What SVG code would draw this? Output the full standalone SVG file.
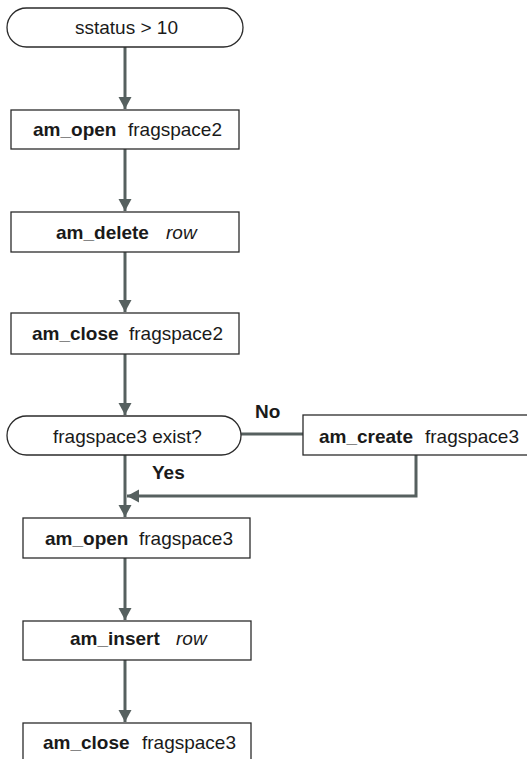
<svg xmlns="http://www.w3.org/2000/svg" width="527" height="759" viewBox="0 0 527 759">
<style>
.box{fill:#fff;stroke:#2b2b2b;stroke-width:1.3}
.t{font-family:"Liberation Sans",Arial,sans-serif;font-size:19px;fill:#1a1a1a}
.b{font-weight:bold}
.i{font-style:italic}
.c{fill:none;stroke:#56605f;stroke-width:3}
</style>
<defs>
<marker id="ah" markerUnits="userSpaceOnUse" markerWidth="14" markerHeight="14" refX="12" refY="6.5" orient="auto">
<path d="M0,0 L12,6.5 L0,13 z" fill="#56605f"/>
</marker>
</defs>
<rect width="527" height="759" fill="#fff"/>
<g id="connectors">
<line class="c" x1="125" y1="47" x2="125" y2="109" marker-end="url(#ah)"/>
<line class="c" x1="125" y1="149" x2="125" y2="211" marker-end="url(#ah)"/>
<line class="c" x1="125" y1="252" x2="125" y2="312" marker-end="url(#ah)"/>
<line class="c" x1="125" y1="354" x2="125" y2="415" marker-end="url(#ah)"/>
<line class="c" x1="241" y1="434" x2="303" y2="434"/>
<polyline class="c" points="416,455 416,496 127,496" marker-end="url(#ah)"/>
<line class="c" x1="125" y1="455" x2="125" y2="517" marker-end="url(#ah)"/>
<line class="c" x1="125" y1="558" x2="125" y2="620" marker-end="url(#ah)"/>
<line class="c" x1="125" y1="660" x2="125" y2="722" marker-end="url(#ah)"/>
</g>
<g id="start">
<rect class="box" x="7" y="8" width="236" height="39" rx="19.5"/>
<text class="t" x="75" y="34">sstatus &gt; 10</text>
</g>
<g id="open2">
<rect class="box" x="11" y="110" width="228" height="39"/>
<text class="t" y="136"><tspan class="b" x="33">am_open</tspan><tspan x="128">fragspace2</tspan></text>
</g>
<g id="delete">
<rect class="box" x="11" y="212" width="228" height="40"/>
<text class="t" y="238.5"><tspan class="b" x="56">am_delete</tspan><tspan class="i" x="166">row</tspan></text>
</g>
<g id="close2">
<rect class="box" x="11" y="313" width="228" height="41"/>
<text class="t" y="340"><tspan class="b" x="32">am_close</tspan><tspan x="129">fragspace2</tspan></text>
</g>
<g id="decision">
<rect class="box" x="7" y="416" width="234" height="39" rx="19.5"/>
<text class="t" x="53" y="443">fragspace3 exist?</text>
</g>
<g id="create">
<rect class="box" x="303" y="415" width="230" height="40"/>
<text class="t" y="443"><tspan class="b" x="319">am_create</tspan><tspan x="425">fragspace3</tspan></text>
</g>
<g id="labels">
<text class="t b" x="255" y="418">No</text>
<text class="t b" x="152" y="479">Yes</text>
</g>
<g id="open3">
<rect class="box" x="23" y="518" width="227" height="40"/>
<text class="t" y="545"><tspan class="b" x="45">am_open</tspan><tspan x="139">fragspace3</tspan></text>
</g>
<g id="insert">
<rect class="box" x="23" y="621" width="228" height="39"/>
<text class="t" y="645"><tspan class="b" x="70">am_insert</tspan><tspan class="i" x="176">row</tspan></text>
</g>
<g id="close3">
<rect class="box" x="23" y="723" width="228" height="40"/>
<text class="t" y="749"><tspan class="b" x="43">am_close</tspan><tspan x="142">fragspace3</tspan></text>
</g>
</svg>
